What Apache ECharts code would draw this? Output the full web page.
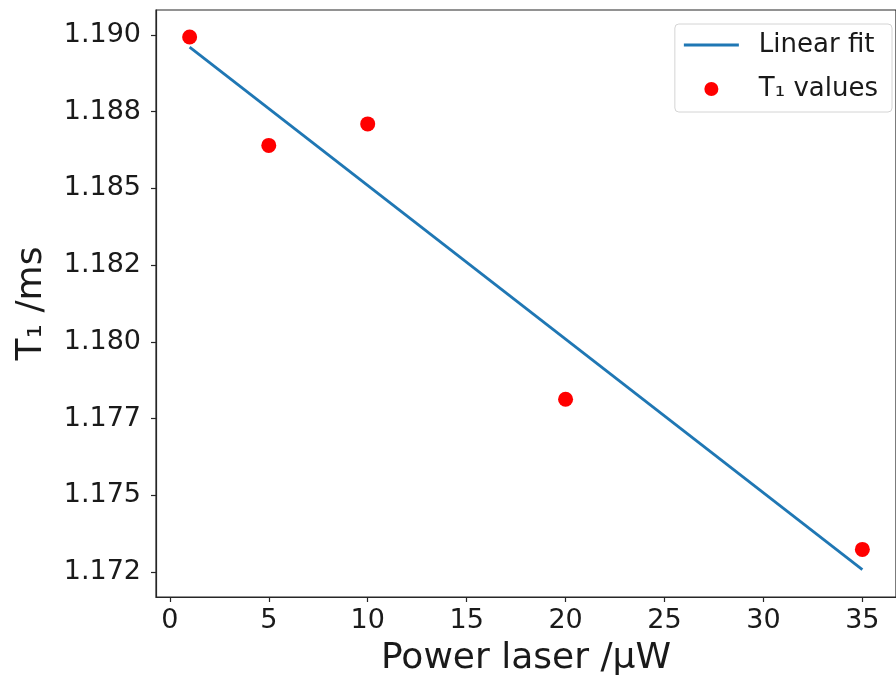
<!DOCTYPE html>
<html>
<head>
<meta charset="utf-8">
<script src="https://cdn.jsdelivr.net/npm/echarts@6/dist/echarts.min.js"></script>
<style>
  html, body { margin: 0; padding: 0; background: #fff; }
  #chart { width: 896px; height: 682px; }
</style>
</head>
<body>
<div id="chart"></div>
<script>
  // values
  const powerValues = [1, 5, 10, 20, 35];
  const t1Values = [1.18993, 1.18640, 1.18710, 1.17813, 1.17324];
  const fitX = [1, 35];
  const fitY = [1.18960, 1.17258];
  const xTicks = [0, 5, 10, 15, 20, 25, 30, 35];
  const yTicks = [1.1725, 1.175, 1.1775, 1.18, 1.1825, 1.185, 1.1875, 1.19];
  const yTickLabels = ['1.172', '1.175', '1.177', '1.180', '1.182', '1.185', '1.188', '1.190'];

  const font = 'DejaVu Sans';
  const ink = '#1a1a1a';
  const chart = echarts.init(document.getElementById('chart'));

  const option = {
    animation: false,
    grid: {
      left: 156, right: -9, top: 10, bottom: 84,
      show: true, borderColor: '#262626', borderWidth: 1.2,
      backgroundColor: 'transparent'
    },
    legend: {
      orient: 'vertical',
      right: 4, top: 24,
      padding: [6, 14, 8, 9],
      itemWidth: 55, itemHeight: 14, itemGap: 14,
      backgroundColor: '#fff',
      borderColor: '#d4d4d4', borderWidth: 1, borderRadius: 4,
      textStyle: { fontFamily: font, fontSize: 26, color: ink, lineHeight: 30, padding: [0, 0, 0, 15] },
      data: [
        { name: 'Linear fit', icon: 'path://M0,0L55,0L55,3L0,3Z' },
        { name: 'T₁ values', icon: 'circle' }
      ]
    },
    xAxis: {
      type: 'value',
      min: -0.7, max: 36.7,
      name: 'Power laser /μW',
      nameLocation: 'middle',
      nameGap: 44,
      nameTextStyle: { fontFamily: font, fontSize: 36, color: ink },
      splitLine: { show: false },
      axisLine: { onZero: false, lineStyle: { color: '#262626', width: 1.2 } },
      axisTick: { customValues: xTicks, length: 5, lineStyle: { color: '#262626', width: 1.2 } },
      axisLabel: {
        customValues: xTicks, margin: 10,
        fontFamily: font, fontSize: 27, color: ink
      }
    },
    yAxis: {
      type: 'value',
      min: 1.17169, max: 1.19081,
      name: 'T₁ /ms',
      nameLocation: 'middle',
      nameGap: 106,
      nameTextStyle: { fontFamily: font, fontSize: 36, color: ink },
      splitLine: { show: false },
      axisLine: { show: true, onZero: false, lineStyle: { color: '#262626', width: 1.2 } },
      axisTick: { show: true, customValues: yTicks, length: 5, lineStyle: { color: '#262626', width: 1.2 } },
      axisLabel: {
        customValues: yTicks, margin: 15,
        fontFamily: font, fontSize: 27, color: ink,
        formatter: function (v) {
          let best = 0;
          for (let i = 0; i < yTicks.length; i++) {
            if (Math.abs(yTicks[i] - v) < Math.abs(yTicks[best] - v)) best = i;
          }
          return yTickLabels[best];
        }
      }
    },
    series: [
      {
        name: 'Linear fit',
        type: 'line',
        symbol: 'none',
        color: '#1f77b4',
        lineStyle: { width: 2.8, color: '#1f77b4' },
        data: fitX.map((x, i) => [x, fitY[i]]),
        z: 2
      },
      {
        name: 'T₁ values',
        type: 'scatter',
        symbol: 'circle',
        symbolSize: 15,
        itemStyle: { color: '#ff0000', opacity: 1 },
        data: powerValues.map((x, i) => [x, t1Values[i]]),
        z: 3
      }
    ]
  };
  chart.setOption(option);
</script>
</body>
</html>
